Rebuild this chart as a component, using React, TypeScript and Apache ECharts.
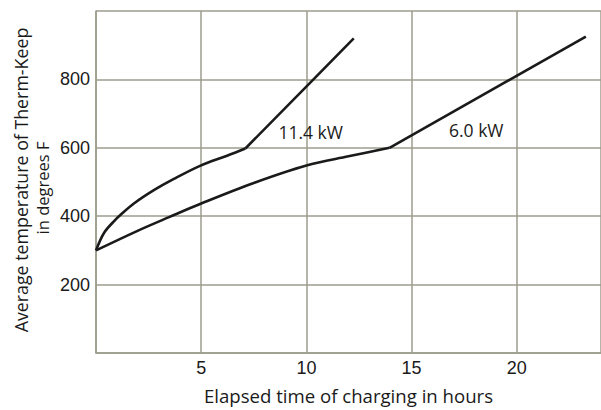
import React, { useEffect, useRef } from "react";
import * as echarts from "echarts";

// 11.4 kW curve: [hours, degrees F]
const upperCurve: [number, number][] = [
  [0, 300], [0.38, 351], [0.85, 385], [1.17, 404], [1.8, 437], [2.75, 476],
  [3.7, 509], [4.97, 548], [6.23, 577], [7.1, 598],
];
const upperLine: [number, number][] = [[7.1, 598], [10.3, 798], [12.25, 920]];

// 6.0 kW curve
const lowerCurve: [number, number][] = [
  [0, 300], [2, 358], [3.5, 398], [5, 437], [7.5, 497], [10, 548],
  [12, 575], [13.95, 600],
];
const lowerLine: [number, number][] = [[13.95, 600], [23.28, 925]];

const curveLabels = ["11.4 kW", "6.0 kW"];
const labelCoords: [number, number][] = [[10.2, 646], [18.07, 652]];

const xTicks = [0, 5, 10, 15, 20];
const yTicks = [200, 400, 600, 800];

const xTitle = "Elapsed time of charging in hours";
const yTitleLines = ["Average temperature of Therm-Keep", "in degrees F"];

const FONT = "Open Sans";
const TICK_FONT = "Liberation Sans";
const GRID = "#9c9c8c";
const INK = "#1a1a1a";

export default function App() {
  const ref = useRef<HTMLDivElement>(null);
  useEffect(() => {
    document.body.style.margin = "0";
    const chart = echarts.init(ref.current!, null, { renderer: "svg" });
    const lineStyle = { color: INK, width: 2.6 };
    const mk = (data: [number, number][], smooth: boolean | number) => ({
      type: "line",
      data,
      smooth,
      symbol: "none",
      lineStyle,
      silent: true,
    });
    const yTitleText = (text: string, x: number, y: number, size: number) => ({
      type: "text",
      x,
      y,
      rotation: Math.PI / 2,
      style: {
        text,
        fill: INK,
        font: `${size}px "${FONT}"`,
        align: "center",
        verticalAlign: "middle",
      },
    });
    chart.setOption({
      animation: false,
      backgroundColor: "#ffffff",
      textStyle: { fontFamily: FONT },
      grid: { left: 96, right: -1, top: 11, bottom: 53 },
      xAxis: {
        type: "value",
        min: 0,
        max: 24,
        interval: 5,
        axisLine: { show: true, lineStyle: { color: GRID, width: 1.5 } },
        axisTick: { show: false },
        splitLine: { show: true, lineStyle: { color: GRID, width: 1.5 } },
        axisLabel: {
          color: INK,
          fontSize: 18,
          fontFamily: TICK_FONT,
          margin: 6,
          showMinLabel: false,
          showMaxLabel: false,
          formatter: (v: number) => (xTicks.includes(v) && v !== 0 ? String(v) : ""),
        },
        name: xTitle,
        nameLocation: "middle",
        nameGap: 33,
        nameTextStyle: { color: INK, fontSize: 18.6, fontFamily: FONT },
      },
      yAxis: {
        type: "value",
        min: 0,
        max: 1000,
        interval: 200,
        axisLine: { show: true, lineStyle: { color: GRID, width: 1.5 } },
        axisTick: { show: false },
        splitLine: { show: true, lineStyle: { color: GRID, width: 1.5 } },
        axisLabel: {
          color: INK,
          fontSize: 18,
          fontFamily: TICK_FONT,
          margin: 6,
          formatter: (v: number) => (yTicks.includes(v) ? String(v) : ""),
        },
      },
      graphic: [
        yTitleText(yTitleLines[0], 21, 180, 17.8),
        yTitleText(yTitleLines[1], 42, 188, 16.5),
      ],
      series: [
        {
          ...mk(upperCurve, 0.35),
          markPoint: {
            symbol: "circle",
            symbolSize: 1,
            itemStyle: { color: "rgba(0,0,0,0)" },
            label: {
              show: true,
              position: "inside",
              color: INK,
              fontSize: 17.5,
              fontFamily: FONT,
            },
            data: [
              { coord: labelCoords[0], value: curveLabels[0], label: { formatter: curveLabels[0] } },
              { coord: labelCoords[1], value: curveLabels[1], label: { formatter: curveLabels[1] } },
            ],
          },
        },
        mk(upperLine, false),
        mk(lowerCurve, 0.35),
        mk(lowerLine, false),
      ],
    });
    return () => chart.dispose();
  }, []);
  return <div ref={ref} style={{ width: 601, height: 410 }} />;
}
